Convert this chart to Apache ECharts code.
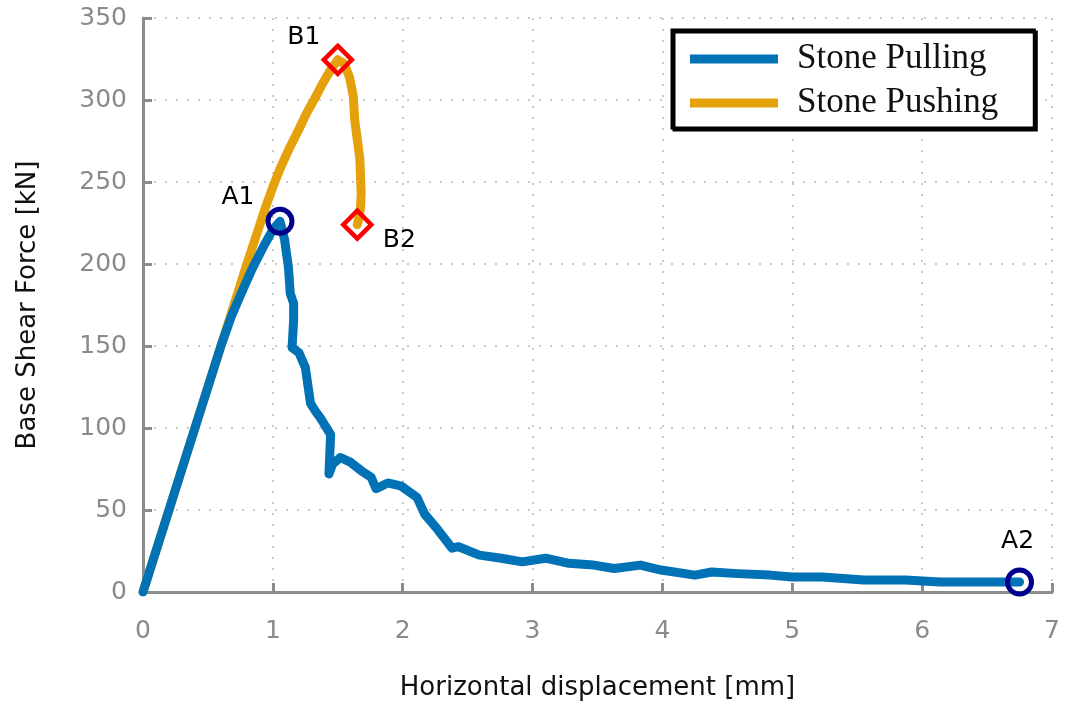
<!DOCTYPE html>
<html>
<head>
<meta charset="utf-8">
<script src="https://cdn.jsdelivr.net/npm/echarts@6/dist/echarts.min.js"></script>
<style>
    html, body { margin: 0; padding: 0; background: #fff; }
    #chart { width: 1067px; height: 706px; }
</style>
</head>
<body>
<div id="chart"></div>
<script>
// Stone Pulling curve (displacement mm, base shear kN)
var pullX = [0, 0.2, 0.4, 0.6, 0.68, 0.75, 0.84, 0.93, 1.0, 1.055, 1.09, 1.12, 1.134, 1.16, 1.16, 1.148, 1.2, 1.25, 1.29, 1.33, 1.367, 1.445, 1.432, 1.46, 1.52, 1.6, 1.68, 1.757, 1.795, 1.885, 1.99, 2.11, 2.17, 2.27, 2.38, 2.43, 2.59, 2.76, 2.92, 3.1, 3.28, 3.47, 3.63, 3.83, 3.99, 4.25, 4.38, 4.58, 4.83, 5.0, 5.23, 5.55, 5.87, 6.14, 6.52, 6.75];
var pullY = [0, 50, 100, 150, 168, 181, 197, 211, 221, 226, 215, 198, 182, 176, 166, 149, 146, 137, 115, 110, 106, 96, 72, 78, 82, 79, 74, 70, 63, 66.5, 64.5, 57.7, 47.4, 38, 26.7, 27.6, 22.5, 20.6, 18.4, 20.6, 17.5, 16.4, 14.3, 16.4, 13.4, 10.3, 12.2, 11.2, 10.3, 9.1, 9.1, 7.3, 7.3, 6.1, 6.1, 6.1];

// Stone Pushing curve
var pushX = [0, 0.2, 0.4, 0.6, 0.8, 0.9, 0.95, 1.0, 1.06, 1.13, 1.2, 1.26, 1.33, 1.39, 1.45, 1.5, 1.55, 1.59, 1.62, 1.63, 1.65, 1.67, 1.68, 1.675, 1.665, 1.65];
var pushY = [0, 50, 100, 150, 200, 224, 236, 247, 259, 271, 282, 292, 302, 311, 319, 324.5, 322, 314, 302, 288, 276, 264, 243, 234, 229, 224];

// marked points
var circleNames = ['A1', 'A2'];
var circleX = [1.055, 6.75];
var circleY = [226, 6.1];
var diamondNames = ['B1', 'B2'];
var diamondX = [1.5, 1.65];
var diamondY = [324.5, 224];

var xTicks = [0, 7, 1];     // min, max, interval
var yTicks = [0, 350, 50];

function zip(xs, ys) {
    var out = [];
    for (var i = 0; i < xs.length; i++) {
        out.push([xs[i], ys[i]]);
    }
    return out;
}

// label offsets for the point names
var labelOffset = {
    A1: [-42, -24],
    A2: [-2, -40],
    B1: [-34, -22],
    B2: [42, 16]
};

function namedPoints(names, xs, ys) {
    var out = [];
    for (var i = 0; i < names.length; i++) {
        out.push({
            name: names[i],
            value: [xs[i], ys[i]],
            label: { offset: labelOffset[names[i]] }
        });
    }
    return out;
}

var axisGray = '#8c8c8c';
var tickFont = 'DejaVu Sans';

var myChart = echarts.init(document.getElementById('chart'));
myChart.setOption({
    animation: false,
    grid: {
        left: 143,
        right: 15,
        top: 18,
        bottom: 112
    },
    legend: {
        data: ['Stone Pulling', 'Stone Pushing'],
        orient: 'vertical',
        left: 672,
        top: 30,
        padding: [10, 36, 6, 18],
        itemGap: 6,
        itemWidth: 88,
        itemHeight: 9,
        icon: 'rect',
        backgroundColor: '#fff',
        borderColor: '#000',
        borderWidth: 3,
        shadowColor: '#000',
        shadowOffsetX: 2,
        shadowOffsetY: 2,
        textStyle: {
            fontFamily: 'Liberation Serif',
            fontSize: 35,
            lineHeight: 38,
            color: '#111',
            padding: [0, 0, 0, 14]
        }
    },
    xAxis: {
        type: 'value',
        min: xTicks[0],
        max: xTicks[1],
        interval: xTicks[2],
        name: 'Horizontal displacement [mm]',
        nameLocation: 'middle',
        nameGap: 83,
        nameTextStyle: {
            fontFamily: tickFont,
            fontSize: 26,
            color: '#111'
        },
        axisLine: { lineStyle: { color: axisGray, width: 3 } },
        axisTick: { inside: true, length: 9, lineStyle: { color: axisGray, width: 3 } },
        axisLabel: {
            margin: 27,
            fontFamily: tickFont,
            fontSize: 25,
            color: '#8a8a8a'
        },
        splitLine: {
            show: true,
            lineStyle: { color: '#b8b8b8', width: 1.5, type: [2, 9] }
        }
    },
    yAxis: {
        type: 'value',
        min: yTicks[0],
        max: yTicks[1],
        interval: yTicks[2],
        name: 'Base Shear Force [kN]',
        nameLocation: 'middle',
        nameGap: 102,
        nameTextStyle: {
            fontFamily: tickFont,
            fontSize: 26,
            color: '#111'
        },
        axisLine: { show: true, lineStyle: { color: axisGray, width: 3 } },
        axisTick: { show: true, inside: true, length: 9, lineStyle: { color: axisGray, width: 3 } },
        axisLabel: {
            margin: 16,
            fontFamily: tickFont,
            fontSize: 25,
            color: '#8a8a8a'
        },
        splitLine: {
            show: true,
            lineStyle: { color: '#b8b8b8', width: 1.5, type: [2, 9] }
        }
    },
    series: [
        {
            name: 'Stone Pushing',
            type: 'line',
            data: zip(pushX, pushY),
            showSymbol: false,
            symbol: 'none',
            color: '#e5a10c',
            lineStyle: { width: 9, color: '#e5a10c', cap: 'round', join: 'round' },
            z: 2
        },
        {
            name: 'Stone Pulling',
            type: 'line',
            data: zip(pullX, pullY),
            showSymbol: false,
            symbol: 'none',
            color: '#0072b5',
            lineStyle: { width: 9, color: '#0072b5', cap: 'round', join: 'round' },
            z: 3
        },
        {
            name: 'circles',
            type: 'scatter',
            data: namedPoints(circleNames, circleX, circleY),
            symbol: 'circle',
            symbolSize: 24,
            itemStyle: { color: 'rgba(0,0,0,0)', borderColor: '#00008c', borderWidth: 5, opacity: 1 },
            label: {
                show: true,
                formatter: '{b}',
                position: 'inside',
                fontFamily: tickFont,
                fontSize: 25,
                color: '#000'
            },
            z: 5
        },
        {
            name: 'diamonds',
            type: 'scatter',
            data: namedPoints(diamondNames, diamondX, diamondY),
            symbol: 'diamond',
            symbolSize: [28, 28],
            itemStyle: { color: 'rgba(0,0,0,0)', borderColor: '#ff0000', borderWidth: 4.5, opacity: 1 },
            label: {
                show: true,
                formatter: '{b}',
                position: 'inside',
                fontFamily: tickFont,
                fontSize: 25,
                color: '#000'
            },
            z: 5
        }
    ]
});
</script>
</body>
</html>
